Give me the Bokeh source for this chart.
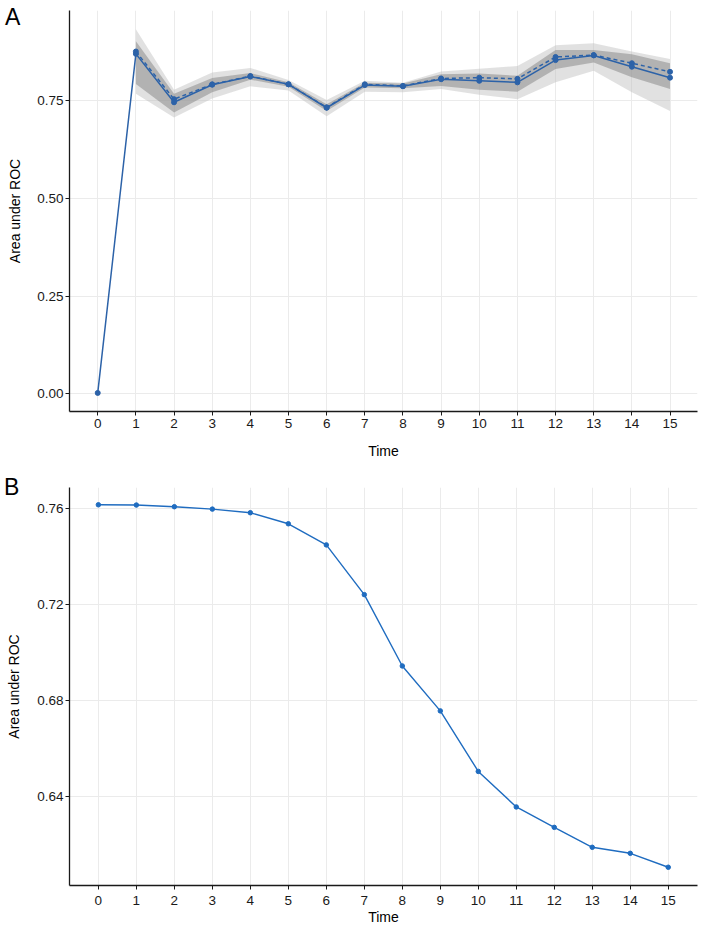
from bokeh.plotting import figure
from bokeh.models import FixedTicker, PrintfTickFormatter, Range1d, Div, GridBox
from bokeh.embed import file_html
from bokeh.resources import INLINE

# ---- Panel A data ----
time = list(range(16))
auc_solid = [0.002, 0.870, 0.746, 0.791, 0.812, 0.792, 0.732, 0.790, 0.787,
             0.805, 0.801, 0.797, 0.854, 0.866, 0.837, 0.809]
band_time = list(range(1, 16))
auc_dashed = [0.876, 0.754, 0.792, 0.813, 0.792, 0.733, 0.792, 0.788,
              0.807, 0.809, 0.806, 0.862, 0.867, 0.846, 0.824]
light_lo = [0.768, 0.707, 0.756, 0.787, 0.776, 0.710, 0.773, 0.772,
            0.780, 0.765, 0.754, 0.797, 0.827, 0.772, 0.724]
light_hi = [0.933, 0.778, 0.822, 0.834, 0.803, 0.752, 0.801, 0.796,
            0.825, 0.832, 0.839, 0.892, 0.897, 0.876, 0.857]
dark_lo = [0.793, 0.720, 0.772, 0.804, 0.786, 0.724, 0.784, 0.782,
           0.788, 0.778, 0.773, 0.831, 0.848, 0.810, 0.780]
dark_hi = [0.902, 0.768, 0.808, 0.821, 0.797, 0.741, 0.796, 0.794,
           0.818, 0.820, 0.814, 0.880, 0.880, 0.869, 0.846]
yticks_a = [0.0, 0.25, 0.5, 0.75]

# ---- Panel B data ----
auc_b = [0.7615, 0.7614, 0.7607, 0.7597, 0.7582, 0.7536, 0.7448, 0.7241,
         0.6944, 0.6757, 0.6505, 0.6357, 0.6272, 0.6189, 0.6164, 0.6106]
yticks_b = [0.64, 0.68, 0.72, 0.76]

FONT = "Liberation Sans"
LINE_A = "#2c62a8"
LINE_B = "#1f6cc0"


def style(p, yticks, xlab_standoff, xaxis_standoff, ylab_standoff, yaxis_standoff):
    p.outline_line_color = None
    p.background_fill_color = "white"
    p.border_fill_color = "white"
    for ax in (p.xaxis[0], p.yaxis[0]):
        ax.axis_line_color = "#1a1a1a"
        ax.axis_line_width = 1.3
        ax.major_tick_line_color = "#1a1a1a"
        ax.major_tick_line_width = 1
        ax.major_tick_out = 4
        ax.major_tick_in = 0
        ax.minor_tick_line_color = None
        ax.major_label_text_font = FONT
        ax.major_label_text_font_size = "13.5px"
        ax.major_label_text_color = "#1a1a1a"
        ax.axis_label_text_font = FONT
        ax.axis_label_text_font_size = "14px"
        ax.axis_label_text_font_style = "normal"
        ax.axis_label_text_color = "black"
    p.xaxis[0].ticker = FixedTicker(ticks=time)
    p.yaxis[0].ticker = FixedTicker(ticks=yticks)
    p.yaxis[0].formatter = PrintfTickFormatter(format="%.2f")
    p.xaxis[0].major_label_standoff = xlab_standoff
    p.yaxis[0].major_label_standoff = ylab_standoff
    p.xaxis[0].axis_label = "Time"
    p.yaxis[0].axis_label = "Area under ROC"
    p.xaxis[0].axis_label_standoff = xaxis_standoff
    p.yaxis[0].axis_label_standoff = yaxis_standoff
    for g in (p.xgrid[0], p.ygrid[0]):
        g.grid_line_color = "#ebebeb"
        g.grid_line_width = 1
        g.minor_grid_line_color = None


# ---------------- Panel A ----------------
pa = figure(width=709, height=468, output_backend="svg", toolbar_location=None,
            x_range=Range1d(-0.74, 15.72), y_range=Range1d(-0.0456, 0.981),
            min_border_left=67, min_border_right=12, min_border_top=10,
            min_border_bottom=57)
style(pa, yticks_a, 3, 12, 2, 11)

pa.varea(x=band_time, y1=light_lo, y2=light_hi, fill_color="#bdbdbd", fill_alpha=0.45)
pa.varea(x=band_time, y1=dark_lo, y2=dark_hi, fill_color="#8c8c8c", fill_alpha=0.55)
pa.line(x=band_time, y=auc_dashed, line_color=LINE_A, line_width=1.5, line_dash="4 3")
pa.scatter(x=band_time, y=auc_dashed, size=5, fill_color=LINE_A, line_color=LINE_A)
pa.line(x=time, y=auc_solid, line_color=LINE_A, line_width=1.5)
pa.scatter(x=time, y=auc_solid, size=5, fill_color=LINE_A, line_color=LINE_A)

# ---------------- Panel B ----------------
pb = figure(width=709, height=466, output_backend="svg", toolbar_location=None,
            x_range=Range1d(-0.76, 15.77), y_range=Range1d(0.603, 0.7687),
            min_border_left=69, min_border_right=2, min_border_top=19,
            min_border_bottom=49)
style(pb, yticks_b, 6, 1, 2, 12)

pb.line(x=time, y=auc_b, line_color=LINE_B, line_width=1.4)
pb.scatter(x=time, y=auc_b, size=4.5, fill_color=LINE_B, line_color=LINE_B)

label_style = {"font-family": "Liberation Sans", "font-size": "23px",
               "line-height": "23px", "color": "black",
               "position": "relative", "z-index": "10"}
div_a = Div(text="A", width=22, height=24, margin=(6, 0, 0, 5), styles=label_style)
div_b = Div(text="B", width=22, height=24, margin=(8, 0, 0, 4), styles=label_style)

layout = GridBox(children=[(pa, 0, 0), (div_a, 0, 0), (pb, 1, 0), (div_b, 1, 0)],
                 spacing=0)
open("out.html", "w").write(file_html(layout, INLINE))
